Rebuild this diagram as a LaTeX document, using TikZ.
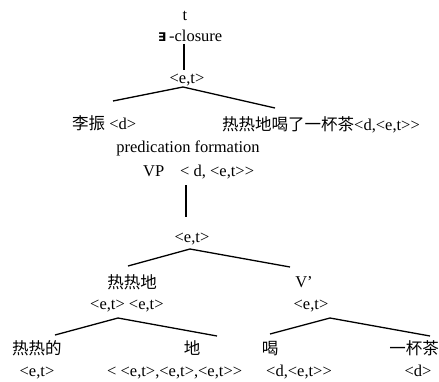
\documentclass[tikz,border=0pt]{standalone}
\usepackage{fontspec}
\setmainfont{Liberation Serif}[Ligatures=TeXOff]
\newfontfamily\cjk{Noto Sans CJK SC}
\newfontfamily\dvs{DejaVu Sans}
\begin{document}
\begin{tikzpicture}[x=1pt,y=-1pt,
  lbl/.style={inner sep=0pt, anchor=base, font=\fontsize{16.5}{18}\selectfont},
  lblw/.style={lbl, anchor=base west},
  lble/.style={lbl, anchor=base east},
  edge/.style={line width=1.3pt}]
\useasboundingbox (0,0) rectangle (439,381);
% labels
\node[lbl] (t) at (185,20) {t};
\node[lblw] (clos) at (158,41) {{\dvs\bfseries\fontsize{12}{12}\selectfont ∃}\,-closure};
\node[lbl] (et1) at (187,83) {<e,t>};
\node[lblw] (lz) at (72,129) {{\cjk 李振} <d>};
\node[lblw] (vp1) at (222,130) {{\cjk 热热地喝了一杯茶}<d,<e,t>>};
\node[lbl] (pf) at (188,152) {predication formation};
\node[lblw] (vp) at (143,176) {VP};
\node[lblw] (vpt) at (180,176) {< d, <e,t>>};
\node[lbl] (et2) at (192,242) {<e,t>};
\node[lbl] (rrd) at (132,288) {\cjk 热热地};
\node[lblw] (rrdt) at (90,309) {<e,t> <e,t>};
\node[lbl] (vb) at (304,287) {V’};
\node[lbl] (vbt) at (311,309) {<e,t>};
\node[lbl] (rrde) at (37,354) {\cjk 热热的};
\node[lbl] (rrdet) at (37,376) {<e,t>};
\node[lbl] (de) at (192,354) {\cjk 地};
\node[lblw] (det) at (107,376) {< <e,t>,<e,t>,<e,t>>};
\node[lbl] (he) at (270,354) {\cjk 喝};
\node[lblw] (het) at (266,376) {<d,<e,t>>};
\node[lble] (ybc) at (439,354) {\cjk 一杯茶};
\node[lbl] (ybct) at (418,376) {<d>};
% connector end points
\coordinate (a1) at (184,44);
\coordinate (b1) at (184,70);
\coordinate (p1) at (183,87);
\coordinate (l1) at (113,101);
\coordinate (r1) at (275,108);
\coordinate (a2) at (186,185);
\coordinate (b2) at (186,217);
\coordinate (p2) at (190,249);
\coordinate (l2) at (128,266);
\coordinate (r2) at (290,267);
\coordinate (p3) at (118,318);
\coordinate (l3) at (55,335);
\coordinate (r3) at (217,336);
\coordinate (p4) at (330,318);
\coordinate (l4) at (270,334);
\coordinate (r4) at (430,336);
% connectors
\draw[edge] (a1) -- (b1);
\draw[edge] (l1) -- (p1) -- (r1);
\draw[edge] (a2) -- (b2);
\draw[edge] (l2) -- (p2) -- (r2);
\draw[edge] (l3) -- (p3) -- (r3);
\draw[edge] (l4) -- (p4) -- (r4);
\end{tikzpicture}
\end{document}
